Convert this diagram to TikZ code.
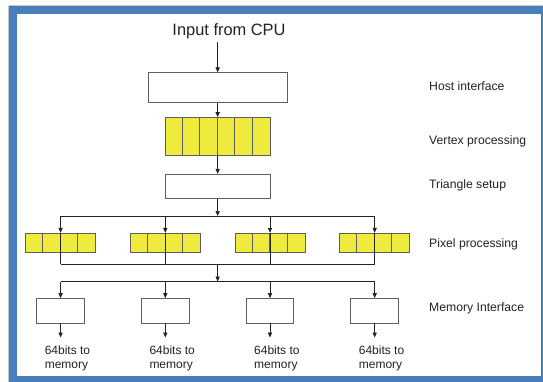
\documentclass[tikz,border=0pt]{standalone}
\usepackage{fontspec}
\setmainfont{Liberation Sans}
\usetikzlibrary{arrows.meta,calc}
\definecolor{frameblue}{RGB}{74,126,187}
\definecolor{celly}{RGB}{238,234,62}
\definecolor{ink}{RGB}{35,35,35}
\definecolor{edgegray}{RGB}{95,95,95}
\begin{document}
\begin{tikzpicture}[x=1pt,y=-1pt,
  plainbox/.style={draw=edgegray, line width=0.8pt, fill=white, inner sep=0pt},
  cellbox/.style={draw=edgegray, line width=0.8pt, fill=celly, inner sep=0pt},
  divider/.style={draw=edgegray, line width=0.8pt},
  conn/.style={draw=ink, line width=0.7pt},
  arr/.style={conn, -{Triangle[length=5pt,width=4.2pt]}},
  lbl/.style={font=\fontsize{12.2}{14}\selectfont, text=ink, anchor=base west, inner sep=0pt},
  memlbl/.style={font=\fontsize{12}{13.5}\selectfont, text=ink, anchor=north west, align=left, inner sep=0pt}
]
\useasboundingbox (0,0) rectangle (543,381);
\clip (0,0) rectangle (543,381);
\fill[white] (0,0) rectangle (543,381);
\draw[frameblue, line width=8pt] (12.6,9.6) rectangle (545,380);
\draw[gray!45, line width=0.6pt] (8.6,5.6) -- (545,5.6);
\draw[gray!45, line width=0.6pt] (8.6,5.6) -- (8.6,385);

% title
\node[font=\fontsize{16.4}{19}\selectfont, text=ink, anchor=base, inner sep=0pt] (inp) at (229,35) {Input from CPU};
\coordinate (instart) at (217.65,42);

% main boxes
\node[plainbox, minimum width=139pt, minimum height=30pt] (host) at (217.65,87.75) {};
\node[cellbox, minimum width=105pt, minimum height=38pt] (vtx) at (217.65,136.5) {};
\foreach \k in {1,...,5}
  \draw[divider] ($(vtx.north west)+(\k*17.5,0)$) -- ($(vtx.south west)+(\k*17.5,0)$);
\node[plainbox, minimum width=105pt, minimum height=24pt] (tri) at (217.65,186.25) {};

% columns
\foreach \i/\cx in {1/60.6,2/165.3,3/270.0,4/374.7}{
  \node[cellbox, minimum width=70pt, minimum height=19pt] (px\i) at (\cx,242.7) {};
  \foreach \k in {1,2,3}
    \draw[divider] ($(px\i.north west)+(\k*17.5,0)$) -- ($(px\i.south west)+(\k*17.5,0)$);
  \node[plainbox, minimum width=47.7pt, minimum height=24.5pt] (mem\i) at (\cx,310.75) {};
  \coordinate (out\i) at (\cx,337.5);
  \node[memlbl] (txt\i) at (\cx-16,345.8) {64bits to\\memory};
}

% branch coordinates
\coordinate (b1) at (217.65,216);
\coordinate (m1) at (217.65,264.2);
\coordinate (b2) at (217.65,281.5);

% connectors
\draw[arr] (instart) -- (host.north);
\draw[arr] (host.south) -- (vtx.north);
\draw[arr] (vtx.south) -- (tri.north);
\draw[arr] (tri.south) -- (b1);
\draw[conn] (px1.north |- b1) -- (px4.north |- b1);
\draw[conn] (px1.south |- m1) -- (px4.south |- m1);
\draw[arr] (m1) -- (b2);
\draw[conn] (mem1.north |- b2) -- (mem4.north |- b2);
\foreach \i in {1,2,3,4}{
  \draw[arr] (px\i.north |- b1) -- (px\i.north);
  \draw[conn] (px\i.north) -- (px\i.south);
  \draw[conn] (px\i.south) -- (px\i.south |- m1);
  \draw[arr] (mem\i.north |- b2) -- (mem\i.north);
  \draw[arr] (mem\i.south) -- (out\i);
}

% stage labels
\node[lbl] (lhost) at (429,90) {Host interface};
\node[lbl] (lvtx) at (429,144) {Vertex processing};
\node[lbl] (ltri) at (429,188) {Triangle setup};
\node[lbl] (lpx) at (429,247) {Pixel processing};
\node[lbl] (lmem) at (429,311) {Memory Interface};
\end{tikzpicture}
\end{document}
